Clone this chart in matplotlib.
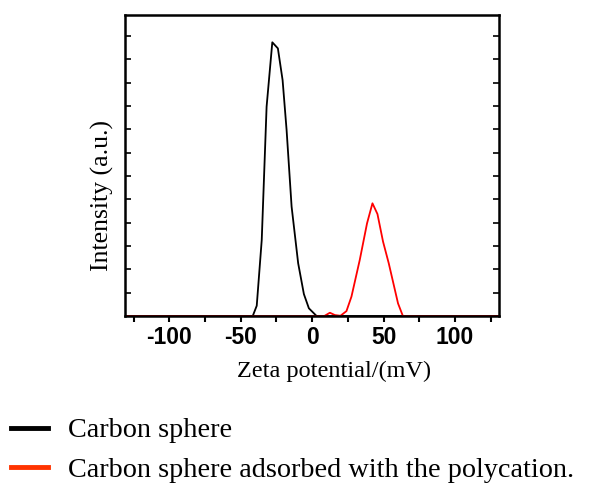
import numpy as np
import matplotlib.pyplot as plt
from matplotlib.lines import Line2D

# zeta potential (mV) and intensity (a.u.)
zeta_cs = [-131, -41.6, -38.8, -35.3, -31.9, -27.9, -24.0, -20.7, -17.9,
           -14.4, -9.8, -5.8, -2.3, 3.1, 131]
int_cs = [0, 0, 0.44, 3.26, 8.97, 11.73, 11.47, 10.11, 7.97,
          4.69, 2.26, 0.94, 0.33, 0, 0]

zeta_poly = [-131, 8.5, 12.4, 15.9, 19.8, 24.0, 27.5, 33.3, 38.4, 42.2,
             45.7, 49.6, 53.6, 60.1, 63.5, 131]
int_poly = [0, 0, 0.14, 0.04, 0.01, 0.21, 0.83, 2.4, 3.97, 4.83,
            4.37, 3.19, 2.26, 0.54, 0, 0]

labels = ["Carbon sphere", "Carbon sphere adsorbed with the polycation."]

serif = ["Liberation Serif", "DejaVu Serif"]
sans = ["Liberation Sans", "DejaVu Sans"]
plt.rcParams["axes.unicode_minus"] = False

fig = plt.figure(figsize=(5.9, 4.84), dpi=100)
ax = fig.add_axes([0.2119, 0.3471, 0.6344, 0.6219])

ax.plot(zeta_cs, int_cs, color="black", lw=1.3)
ax.plot(zeta_poly, int_poly, color="#ff0000", lw=1.3)

ax.set_xlim(-131, 131)
ax.set_ylim(0, 12.9)
ax.set_xticks([-100, -50, 0, 50, 100])
ax.set_xticks([-125, -75, -25, 25, 75, 125], minor=True)
ax.set_yticks(np.arange(0, 13, 1))
ax.set_yticklabels([])

for lab in ax.get_xticklabels():
    lab.set_family(sans)
    lab.set_fontweight("bold")
    lab.set_fontsize(16.5)

ax.tick_params(axis="x", which="both", direction="out", length=4, width=1.5,
               top=False, pad=3)
ax.tick_params(axis="y", which="both", direction="in", length=4, width=1.2,
               left=True, right=True)
for sp in ax.spines.values():
    sp.set_linewidth(1.8)

ax.set_xlabel("Zeta potential/(mV)", family=serif, fontsize=17.5)
ax.xaxis.set_label_coords(0.558, -0.148)
ax.set_ylabel("Intensity (a.u.)", family=serif, fontsize=18.5)
ax.yaxis.set_label_coords(-0.03, 0.4)

handles = [Line2D([], [], color="black", lw=3.5),
           Line2D([], [], color="#ff3300", lw=3.5)]
fig.legend(handles, labels, loc="upper left", bbox_to_anchor=(0.019, 0.137),
           frameon=False, prop={"family": serif, "size": 20.3},
           handlelength=1.3, handletextpad=0.72, labelspacing=0.5,
           borderaxespad=0, borderpad=0)

fig.savefig("out.png", dpi=100)
